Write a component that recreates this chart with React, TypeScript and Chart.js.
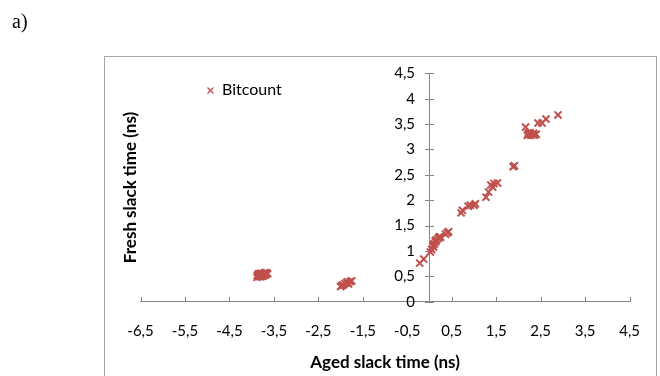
import React, { useEffect, useRef } from "react";
import { Chart, registerables } from "chart.js";

Chart.register(...registerables);

const seriesName = "Bitcount";
const panelLabel = "a)";
const xTitle = "Aged slack time (ns)";
const yTitle = "Fresh slack time (ns)";

const agedSlack = [
  -3.88, -3.85, -3.83, -3.8, -3.78, -3.76, -3.73, -3.7, -3.67, -3.64, -3.86, -3.77, -3.72, -3.82,
  -3.87, -3.81, -3.75, -3.69, -3.66, -3.79, -3.84, -3.71,
  -2.0, -1.97, -1.94, -1.9, -1.86, -1.82, -1.78, -1.75, -1.84,
  -0.22, -0.13, 0.02, 0.05, 0.09, 0.11, 0.14, 0.16, 0.2, 0.22, 0.25, 0.08, 0.13, 0.36, 0.4, 0.43,
  0.71, 0.74, 0.87, 0.92, 1.0, 1.03,
  1.27, 1.33, 1.38, 1.42, 1.45, 1.53,
  1.88, 1.91,
  2.16, 2.2, 2.24, 2.28, 2.32, 2.36, 2.4, 2.26, 2.22, 2.34,
  2.44, 2.53, 2.62, 2.89,
];
const freshSlack = [
  0.48, 0.5, 0.53, 0.49, 0.52, 0.55, 0.54, 0.56, 0.57, 0.55, 0.53, 0.51, 0.52, 0.5,
  0.52, 0.54, 0.5, 0.53, 0.55, 0.56, 0.55, 0.57,
  0.3, 0.32, 0.33, 0.36, 0.38, 0.35, 0.4, 0.41, 0.39,
  0.76, 0.84, 0.98, 1.03, 1.08, 1.14, 1.18, 1.22, 1.25, 1.28, 1.27, 1.12, 1.2, 1.33, 1.36, 1.38,
  1.75, 1.8, 1.88, 1.9, 1.9, 1.93,
  2.06, 2.16, 2.3, 2.26, 2.33, 2.34,
  2.66, 2.68,
  3.44, 3.28, 3.3, 3.28, 3.3, 3.28, 3.3, 3.33, 3.32, 3.32,
  3.52, 3.52, 3.6, 3.68,
];

const xTickValues = [-6.5, -5.5, -4.5, -3.5, -2.5, -1.5, -0.5, 0.5, 1.5, 2.5, 3.5, 4.5];
const yTickValues = [0, 0.5, 1, 1.5, 2, 2.5, 3, 3.5, 4, 4.5];

const FONT = "Lato, 'Open Sans', sans-serif";
const RED = "#C0504D";
const AXIS = "#868686";

const fmt = (v: number) => String(v).replace(".", ",");

const decorPlugin = {
  id: "decor",
  beforeDatasetsDraw(chart: any) {
    const ctx = chart.ctx;
    const xs = chart.scales.x;
    const ys = chart.scales.y;
    const x0 = Math.round(xs.getPixelForValue(0));
    const yb = Math.round(ys.getPixelForValue(0));
    ctx.save();
    ctx.strokeStyle = AXIS;
    ctx.lineWidth = 1;
    ctx.beginPath();
    for (const v of xTickValues) {
      const px = Math.round(xs.getPixelForValue(v)) + 0.5;
      ctx.moveTo(px, yb);
      ctx.lineTo(px, yb - 5);
    }
    for (const v of yTickValues) {
      const py = Math.round(ys.getPixelForValue(v)) + 0.5;
      ctx.moveTo(x0 - 5, py);
      ctx.lineTo(x0 + 4, py);
    }
    ctx.stroke();
    ctx.fillStyle = "#000";
    ctx.font = `15px ${FONT}`;
    ctx.textAlign = "right";
    ctx.textBaseline = "middle";
    for (const v of yTickValues) {
      ctx.fillText(fmt(v), x0 - 15, ys.getPixelForValue(v));
    }
    ctx.restore();
  },
  afterDraw(chart: any) {
    const ctx = chart.ctx;
    const area = chart.chartArea;
    ctx.save();
    ctx.strokeStyle = "#a6a6a6";
    ctx.lineWidth = 1;
    ctx.strokeRect(104.5, 56.5, 552, 340);
    ctx.fillStyle = "#000";
    ctx.font = "20px 'Liberation Serif', serif";
    ctx.textBaseline = "alphabetic";
    ctx.textAlign = "left";
    ctx.fillText(panelLabel, 12, 28);
    ctx.font = `bold 17px ${FONT}`;
    ctx.translate(131, (area.top + area.bottom) / 2);
    ctx.rotate(-Math.PI / 2);
    ctx.textAlign = "center";
    ctx.textBaseline = "middle";
    ctx.fillText(yTitle, 0, 0);
    ctx.restore();
    ctx.save();
    ctx.strokeStyle = RED;
    ctx.lineWidth = 1.3;
    const lx = 210.5, ly = 90.5, r = 3;
    ctx.beginPath();
    ctx.moveTo(lx - r, ly - r);
    ctx.lineTo(lx + r, ly + r);
    ctx.moveTo(lx - r, ly + r);
    ctx.lineTo(lx + r, ly - r);
    ctx.stroke();
    ctx.fillStyle = "#000";
    ctx.font = `16px ${FONT}`;
    ctx.textAlign = "left";
    ctx.textBaseline = "middle";
    ctx.fillText(seriesName, 222, 90);
    ctx.restore();
  },
};

export default function App() {
  const ref = useRef<HTMLCanvasElement | null>(null);
  useEffect(() => {
    if (!ref.current) return;
    const chart = new Chart(ref.current, {
      type: "scatter",
      data: {
        datasets: [
          {
            label: seriesName,
            data: agedSlack.map((x, i) => ({ x, y: freshSlack[i] })),
            pointStyle: "crossRot",
            pointRadius: 5,
            pointBorderWidth: 2,
            borderColor: RED,
            backgroundColor: RED,
          },
        ],
      },
      options: {
        animation: false,
        responsive: false,
        maintainAspectRatio: false,
        events: [],
        layout: { padding: { left: 140.5, right: 24.5, top: 73.3, bottom: 0 } },
        plugins: { legend: { display: false }, tooltip: { enabled: false } },
        scales: {
          x: {
            type: "linear",
            position: "bottom",
            min: -6.5,
            max: 4.5,
            afterBuildTicks: (s: any) => {
              s.ticks = xTickValues.map((v) => ({ value: v }));
            },
            afterFit: (s: any) => {
              s.height = 74.3;
            },
            ticks: {
              callback: (v: any) => fmt(Number(v)),
              font: { family: FONT, size: 15 },
              color: "#000",
              padding: 20,
              maxRotation: 0,
              autoSkip: false,
            },
            grid: { drawOnChartArea: false, drawTicks: false },
            border: { color: AXIS, width: 1 },
            title: {
              display: true,
              text: xTitle,
              font: { family: FONT, size: 17, weight: "bold" },
              color: "#000",
              padding: { top: 4, bottom: 3 },
            },
          },
          y: {
            type: "linear",
            position: { x: 0 },
            min: 0,
            max: 4.5,
            afterBuildTicks: (s: any) => {
              s.ticks = yTickValues.map((v) => ({ value: v }));
            },
            ticks: { display: false },
            grid: { drawOnChartArea: false, drawTicks: false },
            border: { color: AXIS, width: 1 },
          },
        },
      },
      plugins: [decorPlugin],
    } as any);
    return () => chart.destroy();
  }, []);
  return (
    <div style={{ position: "fixed", left: 0, top: 0, width: 660, height: 376, background: "#fff" }}>
      <canvas ref={ref} width={660} height={376} style={{ width: 660, height: 376, display: "block" }} />
    </div>
  );
}
